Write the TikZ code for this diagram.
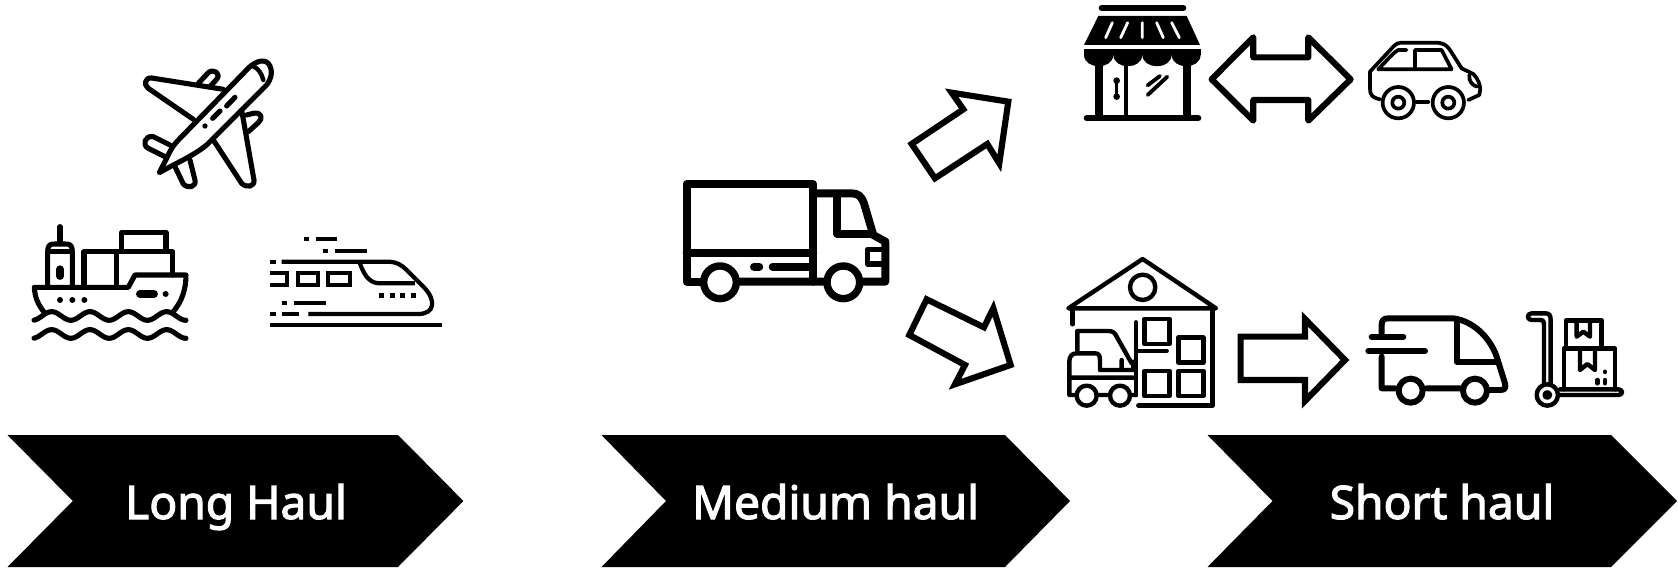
\documentclass[tikz,border=0pt]{standalone}
\usepackage{fontspec}
\setmainfont{Noto Sans}
\newfontfamily\chevFont[FakeBold=2.4]{Noto Sans}

\begin{document}
\begin{tikzpicture}[
    x=0.02cm, y=-0.02cm,
    iconLine/.style={line width=2.9pt, line cap=round, line join=round}, % rounded strokes of the icons
    thinLine/.style={line width=2.5pt, line cap=round, line join=round},
    carLine/.style={line width=2.1pt, line cap=round, line join=round},
    trainLine/.style={line width=2.4pt, line cap=butt, line join=miter},
    heavyLine/.style={line width=4.5pt, line cap=round, line join=round},
    bigArrow/.style={line width=3.5pt, line join=miter, miter limit=8}, % hollow block arrows
    chevLabel/.style={anchor=base, text=white, font=\fontsize{26.3}{32}\selectfont\chevFont},
    wheelDisc/.style={fill=white},
]
    \useasboundingbox (0,0) rectangle (1678,568);

    % 1. Chevron banners along the bottom
    \foreach \chevL/\chevN/\chevR/\chevT in {
        7.5/72.8/398/463.4,
        601.5/666/1005/1070,
        1207.5/1272.5/1611/1677} {
        \fill[black] (\chevL,435) -- (\chevR,435) -- (\chevT,501) -- (\chevR,567) -- (\chevL,567) -- (\chevN,501) -- cycle;
    }
    \node[chevLabel] (longHaul) at (236,519) {Long Haul};
    \node[chevLabel] (mediumHaul) at (835.6,519) {Medium haul};
    \node[chevLabel] (shortHaul) at (1442,519) {Short haul};

    % 2. Long haul icons: plane, ship, train
    \begin{scope}[shift={(0,30)}, scale=0.3333]
        % plane
        \draw[iconLine] (478,428) -- (500,385) .. controls (515,350) and (530,335) .. (545,320) -- (735,125)
            .. controls (760,95) and (790,85) .. (805,100) .. controls (820,120) and (815,145) .. (800,165)
            -- (620,345) .. controls (590,370) and (540,395) .. (520,405) -- cycle;
        \draw[iconLine] (580,268) -- (445,175) .. controls (430,165) and (435,142) .. (455,144) -- (670,178);
        \draw[iconLine] (640,330) -- (725,460) .. controls (740,475) and (765,470) .. (762,450) -- (725,240);
        \draw[iconLine] (595,160) -- (625,128) .. controls (640,115) and (665,130) .. (650,148) -- (630,170);
        \draw[iconLine] (740,255) -- (760,250) .. controls (785,245) and (790,265) .. (775,278) -- (745,305);
        \draw[iconLine] (510,345) -- (460,320) .. controls (435,315) and (425,345) .. (445,355) -- (495,380);
        \draw[iconLine] (525,410) -- (550,462) .. controls (565,478) and (590,470) .. (585,450) -- (570,390);
        \draw[thinLine] (758,108) .. controls (775,115) and (785,130) .. (790,150);
        \draw[iconLine] (680,228) -- (705,202) (638,265) -- (660,243);
        \fill (615,288) circle (8);
        % ship
        \draw[iconLine] (180,590) -- (180,640);
        \draw[iconLine] (143,765) -- (143,665) .. controls (143,645) and (150,642) .. (165,642) -- (195,642) .. controls (210,642) and (217,645) .. (217,665) -- (217,765);
        \draw[iconLine] (143,665) -- (217,665);
        \draw[heavyLine] (180,718) -- (180,738);
        \draw[iconLine] (252,765) -- (252,665) -- (518,665) -- (518,735) (350,665) -- (350,765);
        \draw[iconLine] (365,660) -- (365,607) -- (498,607) -- (498,660);
        \draw[iconLine] (135,850) .. controls (115,825) and (105,805) .. (103,772) -- (385,772) -- (405,735) -- (558,735) .. controls (558,780) and (545,815) .. (520,845);
        \foreach \portX in {180,217,253} \fill (\portX,810) circle (9);
        \draw[heavyLine] (420,792) -- (462,792);
        \fill (497,792) circle (9);
        \foreach \waveY in {858,912}
            \draw[iconLine] plot[domain=102:558, samples=70, smooth] (\x,{\waveY-13*cos((\x-155)*3.13)});
        % train
        \draw[trainLine] (845,695) -- (1160,695) .. controls (1190,695) and (1205,705) .. (1220,720) -- (1270,770)
            .. controls (1310,810) and (1305,852) .. (1255,852) -- (925,852);
        \draw[trainLine] (1080,700) .. controls (1095,745) and (1115,760) .. (1140,760) -- (1245,760);
        \draw[trainLine] (895,728) rectangle (955,765) (985,728) rectangle (1050,765);
        \draw[trainLine] (810,728) -- (862,728) -- (862,765) -- (810,765);
        \draw[trainLine] (810,695) -- (827,695) (912,628) -- (928,628) (948,628) -- (1012,628)
            (968,662) -- (984,662) (1005,662) -- (1100,662) (845,818) -- (860,818) (882,818) -- (977,818)
            (810,852) -- (827,852) (845,852) -- (897,852) (810,886) -- (1325,886);
        \foreach \dotX in {1145,1177,1208,1240} \fill (\dotX-7,789) rectangle (\dotX+7,803);
    \end{scope}

    % 3. Medium haul: truck and the two diagonal arrows
    \begin{scope}[shift={(660,70)}, scale=0.3333]
        \draw[heavyLine] (125,635) -- (80,635) -- (80,342) -- (460,342) -- (460,635) (80,548) -- (460,548);
        \draw[heavyLine] (240,635) -- (490,635) (610,635) -- (676,635) -- (676,515) -- (640,495)
            -- (612,400) .. controls (605,380) and (595,370) .. (575,370) -- (460,370);
        \draw[heavyLine] (532,375) -- (532,492) -- (635,492);
        \draw[heavyLine] (282,590) -- (298,590) (338,590) -- (450,590);
        \draw[line width=3pt, line join=round] (676,538) -- (622,538) -- (622,582) -- (676,582);
        \foreach \wheelX in {180,550} \draw[line width=4.2pt, wheelDisc] (\wheelX,637) circle (49);
        \draw[bigArrow] (755,222) -- (825,325) -- (982,222) -- (1018,280) -- (1045,95) -- (875,68) -- (910,118) -- cycle;
        \draw[bigArrow] (748,795) -- (800,688) -- (972,772) -- (1000,715) -- (1052,885) -- (885,943) -- (915,885) -- cycle;
    \end{scope}

    % 4. Short haul, top row: shop, double arrow, car
    \begin{scope}[shift={(1060,0)}, scale=0.3333]
        \draw[line width=3.4pt, line cap=round] (125,24) -- (370,24);
        \fill (115,48) -- (380,48) -- (420,135) -- (72,135) -- cycle;
        \draw[white, line width=1.6pt, line cap=round] (157,68) -- (137,113) (203,68) -- (182,113) (247,68) -- (247,113) (290,68) -- (310,113) (335,68) -- (358,113);
        \fill (72,148) rectangle (422,165);
        \foreach \scallopL/\scallopR in {72/160,160/247,247/335,335/422}
            \fill (\scallopL,165) .. controls (\scallopL+2,210) and (\scallopR-2,210) .. (\scallopR,165) -- cycle;
        \draw[line width=4.4pt] (118,190) -- (118,352) (380,190) -- (380,352);
        \draw[line width=2.4pt] (197,195) -- (197,352);
        \draw[line width=3.4pt, line cap=round] (80,355) -- (415,355);
        \draw[line width=2pt] (170,242) -- (170,290);
        \fill (170,242) circle (10) (170,290) circle (10);
        \draw[line width=2.2pt, line cap=round] (263,256) -- (300,228) (263,285) -- (322,230);
        \draw[bigArrow, line join=round] (455,238) -- (580,112) -- (580,172) -- (745,172) -- (745,112) -- (872,238) -- (745,362) -- (745,300) -- (580,300) -- (580,362) -- cycle;
        \draw[carLine] (960,298) .. controls (935,292) and (930,285) .. (930,265) -- (930,215) -- (1000,140) .. controls (1010,130) and (1015,128) .. (1030,128)
            -- (1125,128) .. controls (1150,128) and (1160,135) .. (1170,150) -- (1205,205) -- (1240,222) .. controls (1258,240) and (1265,265) .. (1258,285) -- (1225,300);
        \draw[carLine] (1040,150) -- (1015,150) .. controls (1005,155) and (995,165) .. (955,208) -- (1175,208) -- (1145,150) -- (1065,150) -- (1065,208);
        \draw[carLine] (1228,225) .. controls (1225,245) and (1240,258) .. (1252,260);
        \draw[carLine] (1070,305) -- (1105,305);
        \foreach \wheelX in {1015,1165} {
            \draw[carLine, wheelDisc] (\wheelX,308) circle (47);
            \draw[carLine] (\wheelX,308) circle (18);
        }
    \end{scope}

    % 5. Short haul, bottom row: warehouse and block arrow
    \begin{scope}[shift={(1050,245)}, scale=0.3333]
        \draw[thinLine] (55,190) -- (278,42) -- (498,190) -- cycle;
        \draw[thinLine] (278,127) circle (38);
        \draw[thinLine] (488,190) -- (488,482) -- (265,482) (68,190) -- (68,238);
        \foreach \boxX/\boxY in {283/222,385/278,283/378,385/378}
            \draw[thinLine] (\boxX,\boxY) rectangle (\boxX+75,\boxY+75);
        \draw[thinLine] (258,232) -- (258,450) (258,318) -- (350,318);
        \draw[thinLine] (82,320) -- (82,258) -- (175,258) .. controls (190,258) and (195,265) .. (200,275) -- (245,355);
        \draw[thinLine] (78,450) -- (58,450) -- (58,350) .. controls (58,335) and (65,325) .. (80,325) -- (135,325) .. controls (145,325) and (150,330) .. (150,345)
            -- (150,375) -- (215,375) -- (215,345) (215,375) -- (250,375) -- (250,350) (58,398) -- (250,398) (140,450) -- (180,450) (240,450) -- (258,450);
        \foreach \wheelX in {110,210} \draw[thinLine, wheelDisc] (\wheelX,452) circle (30);
        \draw[bigArrow] (572,275) -- (765,275) -- (765,222) -- (885,345) -- (765,468) -- (765,405) -- (572,405) -- cycle;
    \end{scope}

    % 6. Short haul, bottom row: van and parcel trolley
    \begin{scope}[shift={(1340,300)}, scale=0.3333]
        \draw[iconLine, line width=3.4pt] (125,100) -- (125,75) .. controls (125,62) and (130,55) .. (145,55) -- (340,55) .. controls (410,65) and (455,125) .. (470,170) -- (495,250) .. controls (498,265) and (495,270) .. (480,270) -- (435,270)
            (360,265) -- (260,265) (165,265) -- (125,265) -- (125,170);
        \draw[iconLine, line width=3.4pt] (350,60) -- (350,185) -- (465,185);
        \draw[iconLine, line width=3.4pt] (95,110) -- (190,110) (85,153) -- (255,153);
        \foreach \wheelX in {212,405} \draw[iconLine, line width=3.4pt, wheelDisc] (\wheelX,272) circle (36);
        \draw[thinLine] (612,250) -- (612,75) .. controls (612,65) and (610,60) .. (600,60) -- (575,60) .. controls (560,60) and (560,40) .. (575,40) -- (615,40) .. controls (628,40) and (632,45) .. (632,60) -- (632,250);
        \draw[thinLine] (622,285) circle (32) (622,285) circle (8);
        \draw[thinLine] (655,285) -- (835,285) .. controls (850,285) and (850,268) .. (835,268) -- (660,268);
        \draw[thinLine] (672,268) -- (672,145) -- (825,145) -- (825,268) (678,145) -- (678,62) -- (785,62) -- (785,145);
        \draw[thinLine] (710,62) -- (710,110) -- (730,95) -- (750,110) -- (750,62);
        \draw[thinLine] (720,150) -- (720,210) -- (742,192) -- (765,210) -- (765,150);
        \draw[thinLine] (795,215) -- (795,216) (795,240) -- (795,250) (772,240) -- (772,250);
    \end{scope}
\end{tikzpicture}
\end{document}
